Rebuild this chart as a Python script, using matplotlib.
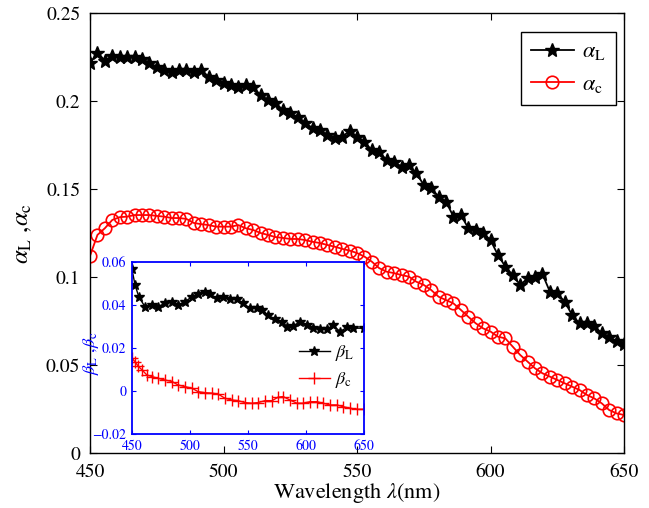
import numpy as np
import matplotlib
matplotlib.use('Agg')
import matplotlib.pyplot as plt

plt.rcParams['font.family'] = ['STIXGeneral', 'DejaVu Serif']
plt.rcParams['mathtext.fontset'] = 'stix'

# main plot data: absorption coefficients vs wavelength
alpha_L = [0.2216, 0.2275, 0.2230, 0.2256, 0.2252, 0.2248, 0.2250, 0.2240, 0.2216, 0.2195,
           0.2176, 0.2167, 0.2176, 0.2176, 0.2167, 0.2176, 0.2138, 0.2119, 0.2100, 0.2090,
           0.2078, 0.2090, 0.2078, 0.2034, 0.2006, 0.1989, 0.1949, 0.1930, 0.1910, 0.1877,
           0.1845, 0.1835, 0.1807, 0.1790, 0.1797, 0.1830, 0.1797, 0.1769, 0.1720, 0.1710,
           0.1665, 0.1655, 0.1627, 0.1636, 0.1590, 0.1523, 0.1505, 0.1457, 0.1428, 0.1343,
           0.1352, 0.1278, 0.1267, 0.1250, 0.1210, 0.1125, 0.1059, 0.1011, 0.0955, 0.0992,
           0.1002, 0.1017, 0.0917, 0.0907, 0.0860, 0.0784, 0.0737, 0.0737, 0.0722, 0.0680,
           0.0661, 0.0635, 0.0618]
alpha_c = [0.1120, 0.1239, 0.1277, 0.1324, 0.1340, 0.1343, 0.1352, 0.1352, 0.1352, 0.1347,
           0.1343, 0.1335, 0.1335, 0.1330, 0.1307, 0.1300, 0.1295, 0.1286, 0.1286, 0.1286,
           0.1295, 0.1277, 0.1267, 0.1250, 0.1239, 0.1227, 0.1222, 0.1216, 0.1216, 0.1210,
           0.1200, 0.1193, 0.1182, 0.1172, 0.1160, 0.1150, 0.1136, 0.1116, 0.1087, 0.1050,
           0.1030, 0.1022, 0.1011, 0.1002, 0.0973, 0.0955, 0.0926, 0.0888, 0.0869, 0.0850,
           0.0813, 0.0774, 0.0737, 0.0708, 0.0690, 0.0661, 0.0651, 0.0604, 0.0557, 0.0519,
           0.0481, 0.0453, 0.0434, 0.0415, 0.0396, 0.0377, 0.0358, 0.0330, 0.0310, 0.0282,
           0.0244, 0.0225, 0.0216]
wl = np.linspace(450, 650, len(alpha_L))

# inset data
wl_bL = [450, 452.6, 456, 461.2, 467.2, 472.4, 478.4, 484.5, 489.7, 495.7, 501.7, 506.9,
         512.9, 517.2, 523.3, 528.4, 534.5, 540.5, 545.7, 551.7, 557.8, 562.1, 567.2, 573.3,
         579.3, 583.6, 588.8, 594.8, 600.9, 606.0, 612.1, 618.1, 623.3, 629.3, 635.3, 640.5, 650]
beta_L = [0.0566, 0.0493, 0.0436, 0.0392, 0.0400, 0.0392, 0.0408, 0.0415, 0.0400, 0.0415,
          0.0439, 0.0450, 0.0462, 0.0450, 0.0431, 0.0439, 0.0427, 0.0427, 0.0408, 0.0385,
          0.0385, 0.0377, 0.0353, 0.0333, 0.0322, 0.0299, 0.0302, 0.0322, 0.0307, 0.0292,
          0.0287, 0.0287, 0.0307, 0.0276, 0.0296, 0.0292, 0.0292]
wl_bc = [450, 452.6, 455.2, 458.6, 462.9, 467.2, 472.4, 478.4, 484.5, 489.7, 495.7, 501.7,
         506.9, 512.9, 519, 524.1, 530.2, 536.2, 541.4, 547.4, 553.4, 558.6, 564.7, 570.7,
         575.9, 580.2, 586.2, 592.2, 597.4, 603.4, 609.5, 614.7, 620.7, 626.7, 631.9, 637.9,
         644, 650]
beta_c = [0.0152, 0.0136, 0.0116, 0.0098, 0.0074, 0.0067, 0.0059, 0.0051, 0.0044, 0.0028,
          0.0020, 0.0013, -0.0003, -0.0008, -0.0010, -0.0014, -0.0034, -0.0042, -0.0045, -0.0054,
          -0.0057, -0.0054, -0.0045, -0.0045, -0.0029, -0.0026, -0.0042, -0.0057, -0.0057, -0.0050,
          -0.0050, -0.0057, -0.0065, -0.0065, -0.0073, -0.0080, -0.0085, -0.0085]

fig = plt.figure(figsize=(6.49, 5.08), dpi=100)
ax = fig.add_axes([0.1387, 0.1083, 0.8228, 0.8661])

ax.plot(wl, alpha_L, '-', color='k', lw=1.3, marker='*', markersize=10.5,
        label=r'$\alpha_{\rm L}$')
ax.plot(wl, alpha_c, '-', color='r', lw=1.3, marker='o', markersize=9,
        markerfacecolor='none', markeredgewidth=1.2, label=r'$\alpha_{\rm c}$')

ax.set_xlim(450, 650)
ax.set_ylim(0, 0.25)
ax.set_xticks([450, 500, 550, 600, 650])
ax.set_yticks([0, 0.05, 0.1, 0.15, 0.2, 0.25])
ax.set_yticklabels(['0', '0.05', '0.1', '0.15', '0.2', '0.25'])
ax.tick_params(axis='both', direction='in', top=True, right=True, length=5, labelsize=14)
ax.tick_params(axis='x', pad=8)
ax.tick_params(axis='y', pad=7)
for s in ax.spines.values():
    s.set_linewidth(1.0)
ax.set_xlabel(r'Wavelength $\lambda$(nm)', fontsize=16, labelpad=0)
ax.set_ylabel(r'$\alpha_{\rm L}$ ,$\alpha_{\rm c}$', fontsize=18, labelpad=8)

leg = ax.legend(loc='upper right', bbox_to_anchor=(0.985, 0.957), fontsize=16,
                fancybox=False, edgecolor='k', framealpha=1, handlelength=1.9,
                handletextpad=0.4, borderpad=0.45, labelspacing=0.55, borderaxespad=0)
leg.get_frame().set_linewidth(1.0)

# inset
ins = fig.add_axes([0.2034, 0.1457, 0.3575, 0.3386])
ins.plot(wl_bL, beta_L, '-', color='k', lw=1.0, marker='*', markersize=7.5,
         label=r'$\beta_{\rm L}$')
ins.plot(wl_bc, beta_c, '-', color='r', lw=1.0, marker='+', markersize=8,
         markeredgewidth=1.0, label=r'$\beta_{\rm c}$')
ins.set_xlim(450, 650)
ins.set_ylim(-0.02, 0.06)
ins.set_xticks([450, 500, 550, 600, 650])
ins.set_yticks([-0.02, 0, 0.02, 0.04, 0.06])
ins.set_yticklabels(['\u22120.02', '0', '0.02', '0.04', '0.06'])
ins.tick_params(direction='in', top=True, right=True, length=3, labelsize=10,
                colors='b', pad=4)
for s in ins.spines.values():
    s.set_color('b')
    s.set_linewidth(1.3)
ins.set_ylabel(r'$\beta_{\rm L}$ ,$\beta_{\rm c}$', fontsize=13, color='b')
ins.yaxis.set_label_coords(-0.135, 0.47)
ins.legend(loc='upper right', bbox_to_anchor=(0.99, 0.57), fontsize=13, frameon=False,
           handlelength=1.7, handletextpad=0.3, labelspacing=0.4, borderaxespad=0)

fig.savefig('out.png', dpi=100)
